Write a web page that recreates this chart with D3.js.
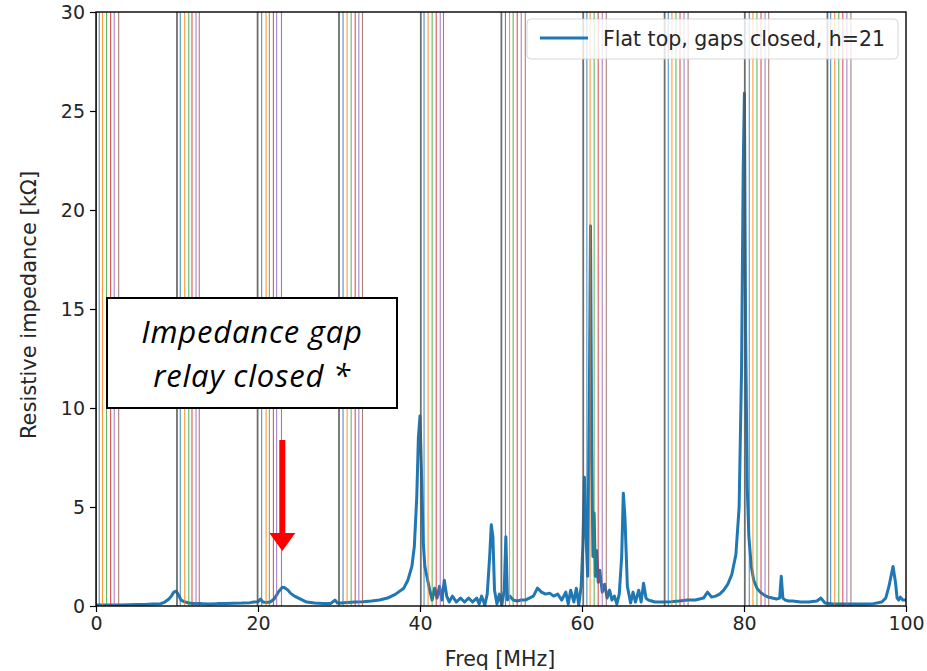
<!DOCTYPE html>
<html>
<head>
<meta charset="utf-8">
<script src="https://cdn.jsdelivr.net/npm/d3@7/dist/d3.min.js"></script>
<style>
  html, body { margin: 0; padding: 0; background: #fff; }
  svg { display: block; }
</style>
</head>
<body>
<svg id="chart" width="927" height="671"></svg>
<script>
// ---- data ----
const freq = [0,1,2,3,4,5,6,7,8,8.5,9,9.3,9.6,9.9,10.2,10.5,11,11.5,12,13,14,15,16,17,18,19,19.5,20,20.3,20.6,21,21.5,22,22.5,23,23.3,23.7,24,24.5,25,25.5,26,27,28,29,29.5,29.8,30.2,31,32,33,34,35,36,36.5,37,37.5,38,38.5,39,39.3,39.6,39.8,40.0,40.2,40.4,40.6,40.9,41.2,41.5,41.8,42.1,42.4,42.7,43.0,43.3,43.6,44,44.5,45,45.5,46,46.5,47,47.3,47.6,48,48.3,48.6,48.8,49.0,49.2,49.5,49.8,50.1,50.4,50.6,50.8,51.1,51.5,52,52.5,53,53.5,54,54.5,55,55.5,56,56.5,57,57.5,58,58.3,58.6,59,59.3,59.6,59.9,60.1,60.3,60.5,60.7,60.9,61.05,61.2,61.35,61.5,61.65,61.8,62,62.2,62.5,62.8,63.1,63.4,63.7,64,64.3,64.6,64.9,65.1,65.3,65.6,66,66.3,66.6,67,67.3,67.6,67.9,68.2,68.6,69,70,71,72,73,74,75,75.5,76,76.5,77,77.5,78,78.5,79,79.4,79.7,79.9,80.05,80.2,80.4,80.6,80.9,81.2,81.6,82,82.5,83,83.5,84,84.4,84.6,84.8,85.1,85.5,86,87,88,89,89.5,90,91,92,93,94,95,96,97,97.5,97.9,98.4,98.7,98.9,99.1,99.3,99.6,100];
const impedance = [0.05,0.05,0.05,0.05,0.06,0.07,0.08,0.1,0.12,0.2,0.35,0.5,0.7,0.75,0.55,0.3,0.2,0.15,0.12,0.12,0.1,0.12,0.13,0.14,0.15,0.17,0.2,0.22,0.35,0.2,0.18,0.2,0.35,0.7,0.95,0.92,0.8,0.65,0.5,0.4,0.3,0.2,0.15,0.13,0.13,0.3,0.15,0.15,0.18,0.2,0.22,0.25,0.3,0.4,0.5,0.6,0.75,0.9,1.3,2.0,3.0,5.5,8.5,9.6,6.5,3.2,2.0,1.4,0.8,0.3,0.9,0.4,1.0,0.3,1.3,0.5,0.2,0.5,0.2,0.4,0.2,0.4,0.2,0.4,0.1,0.5,0.05,0.6,2.5,4.1,3.5,0.8,0.1,0.6,0.05,0.8,3.5,0.3,0.5,0.3,0.25,0.3,0.3,0.4,0.5,0.9,0.7,0.6,0.65,0.5,0.6,0.3,0.7,0.1,0.8,0.2,0.9,0.05,1.0,3.0,6.5,3.5,1.5,10,19.2,8,2.5,4.7,1.5,2.8,1.2,1.8,0.7,1.1,0.4,0.8,0.3,0.5,0.1,0.6,2.5,5.7,4.5,1.0,0.15,0.7,0.2,0.8,0.2,1.15,0.4,0.3,0.25,0.2,0.2,0.22,0.25,0.3,0.3,0.4,0.7,0.45,0.5,0.6,0.8,1.1,1.6,2.6,5,12,22,25.9,14,6,3.5,2.0,1.3,0.9,0.7,0.55,0.45,0.4,0.35,0.4,1.5,0.4,0.3,0.25,0.25,0.2,0.2,0.25,0.4,0.15,0.1,0.1,0.1,0.1,0.1,0.12,0.2,0.4,1.0,2.0,1.2,0.4,0.3,0.45,0.3,0.3];

// marker lines (MHz)
const grayLines   = [0, 10.0, 19.95, 30.0, 40.1, 50.05, 60.15, 70.2, 80.1, 90.3];
const blueLines   = [0.4, 10.4, 20.45, 30.5, 40.5, 50.55, 60.6, 70.65, 80.65, 90.7];
const orangeLines = [0.8, 10.95, 21.0, 31.0, 41.0, 51.05, 61.0, 71.1, 81.1, 91.2];
const greenLines  = [1.3, 11.45, 21.4, 31.5, 41.5, 51.5, 61.5, 71.6, 81.6, 91.7];
const redLines    = [1.8, 11.85, 21.9, 32.0, 42.0, 52.0, 62.0, 72.1, 82.1, 92.2];
const purpleLines = [2.25, 12.35, 22.3, 32.45, 42.5, 52.5, 62.5, 72.6, 82.6, 92.7];
const brownLines  = [2.8, 12.75, 22.9, 32.9, 42.9, 53.0, 63.0, 73.1, 83.05, 93.2];

const xTicks = [0, 20, 40, 60, 80, 100];
const yTicks = [0, 5, 10, 15, 20, 25, 30];
const legendLabel = "Flat top, gaps closed, h=21";
const xLabel = "Freq [MHz]";
const yLabel = "Resistive impedance [kΩ]";
const noteLines = ["Impedance gap", "relay closed *"];
const arrowAt = 23.0; // MHz

// ---- layout ----
const svg = d3.select("#chart");
const L = 96, R = 906, T = 12, B = 606;
const x = d3.scaleLinear().domain([0, 100]).range([L, R]);
const y = d3.scaleLinear().domain([0, 30]).range([B, T]);
const font = "'DejaVu Sans', sans-serif";

svg.append("defs").append("clipPath").attr("id", "clip")
  .append("rect").attr("x", L).attr("y", T).attr("width", R - L).attr("height", B - T);

// curve
const line = d3.line().x((d, i) => x(freq[i])).y(d => y(d));
svg.append("path")
  .attr("clip-path", "url(#clip)")
  .attr("d", line(impedance))
  .attr("fill", "none")
  .attr("stroke", "#1f77b4")
  .attr("stroke-width", 3)
  .attr("stroke-linejoin", "round");

// vertical marker lines
const groups = [
  [grayLines, "#555555", 1.8, 0.85],
  [blueLines, "#1f77b4", 1.1, 0.8],
  [orangeLines, "#ff7f0e", 1.1, 0.8],
  [greenLines, "#2ca02c", 1.1, 0.75],
  [redLines, "#d62728", 1.1, 0.8],
  [purpleLines, "#9467bd", 1.1, 0.8],
  [brownLines, "#8c564b", 1.1, 0.75]
];
const vg = svg.append("g").attr("clip-path", "url(#clip)");
groups.forEach(([arr, col, w, op]) => {
  vg.selectAll(null).data(arr).enter().append("line")
    .attr("x1", d => x(d)).attr("x2", d => x(d))
    .attr("y1", T).attr("y2", B)
    .attr("stroke", col).attr("stroke-width", w).attr("stroke-opacity", op);
});

// axes
const xAxis = svg.append("g").attr("transform", `translate(0,${B})`)
  .call(d3.axisBottom(x).tickValues(xTicks).tickSize(6).tickPadding(5).tickFormat(d3.format("d")));
const yAxis = svg.append("g").attr("transform", `translate(${L},0)`)
  .call(d3.axisLeft(y).tickValues(yTicks).tickSize(6).tickPadding(5).tickFormat(d3.format("d")));
[xAxis, yAxis].forEach(a => {
  a.select(".domain").remove();
  a.selectAll("line").attr("stroke", "#000").attr("stroke-width", 1.2);
  a.selectAll("text").attr("font-family", font).attr("font-size", 19).attr("fill", "#262626");
});
// frame
svg.append("rect").attr("x", L).attr("y", T).attr("width", R - L).attr("height", B - T)
  .attr("fill", "none").attr("stroke", "#000").attr("stroke-width", 1.4);

// axis labels
svg.append("text").attr("x", 500).attr("y", 666).attr("text-anchor", "middle")
  .attr("font-family", font).attr("font-size", 20.5).attr("fill", "#262626").text(xLabel);
svg.append("text").attr("transform", `translate(36,305) rotate(-90)`)
  .attr("text-anchor", "middle").attr("font-family", font).attr("font-size", 21)
  .attr("fill", "#262626").text(yLabel);

// legend
const lg = svg.append("g");
lg.append("rect").attr("x", 527).attr("y", 19).attr("width", 371).attr("height", 40).attr("rx", 4)
  .attr("fill", "#fff").attr("fill-opacity", 0.8).attr("stroke", "#cccccc").attr("stroke-opacity", 0.8);
lg.append("line").attr("x1", 540).attr("x2", 588).attr("y1", 38).attr("y2", 38)
  .attr("stroke", "#1f77b4").attr("stroke-width", 3);
lg.append("text").attr("x", 603).attr("y", 46).attr("font-family", font).attr("font-size", 20.5)
  .attr("fill", "#262626").text(legendLabel);

// annotation box
svg.append("rect").attr("x", 107).attr("y", 298).attr("width", 290).attr("height", 110)
  .attr("fill", "#fff").attr("stroke", "#000").attr("stroke-width", 2);
noteLines.forEach((t, i) => {
  svg.append("text").attr("x", 252).attr("y", 343 + i * 44).attr("text-anchor", "middle")
    .attr("font-family", "'Open Sans', 'Liberation Sans', sans-serif").attr("font-style", "italic")
    .attr("font-size", 31).attr("letter-spacing", 0.8).attr("fill", "#000").text(t);
});

// red arrow
const ax = x(arrowAt);
svg.append("rect").attr("x", ax - 3).attr("y", 440).attr("width", 6).attr("height", 95).attr("fill", "#ff0000");
svg.append("path").attr("d", `M${ax - 13},533 L${ax + 13},533 L${ax},551 Z`).attr("fill", "#ff0000");
</script>
</body>
</html>
